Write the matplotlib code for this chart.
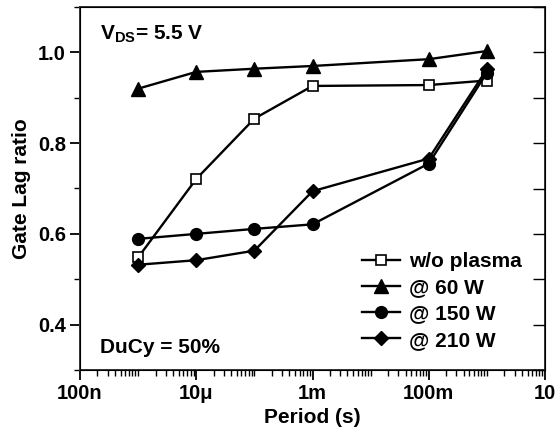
import matplotlib
matplotlib.use("Agg")
import matplotlib.pyplot as plt
from matplotlib.ticker import FixedLocator, LogLocator, NullFormatter, MultipleLocator

plt.rcParams['font.family'] = ['Liberation Sans', 'DejaVu Sans']
plt.rcParams['font.weight'] = 'bold'
plt.rcParams['mathtext.fontset'] = 'custom'
plt.rcParams['mathtext.bf'] = 'Liberation Sans:bold'
plt.rcParams['mathtext.rm'] = 'Liberation Sans:bold'

# data
period = [1e-6, 1e-5, 1e-4, 1e-3, 1e-1, 1.0]
no_plasma = [0.548, 0.721, 0.854, 0.926, 0.928, 0.938]
w60 = [0.920, 0.957, 0.964, 0.970, 0.985, 1.003]
w150 = [0.589, 0.600, 0.611, 0.621, 0.755, 0.955]
w210 = [0.532, 0.542, 0.563, 0.694, 0.766, 0.963]

xticks = [1e-7, 1e-5, 1e-3, 1e-1, 1e1]
xticklabels = ['100n', '10\u03bc', '1m', '100m', '10']

fig = plt.figure(figsize=(5.58, 4.32), dpi=100)
ax = fig.add_axes([80 / 558, 62 / 432, 465 / 558, 363 / 432])

lw = 1.7
ax.plot(period, no_plasma, '-s', color='black', mfc='white', mec='black',
        ms=7.5, lw=lw, mew=1.2, label='w/o plasma')
ax.plot(period, w60, '-^', color='black', ms=9.5, lw=lw, label='@ 60 W')
ax.plot(period, w150, '-o', color='black', ms=8.5, lw=lw, label='@ 150 W')
ax.plot(period, w210, '-D', color='black', ms=7.5, lw=lw, label='@ 210 W')

ax.set_xscale('log')
ax.set_xlim(1e-7, 1e1)
ax.set_ylim(0.3, 1.1)
ax.xaxis.set_major_locator(FixedLocator(xticks))
ax.set_xticklabels(xticklabels)
ax.xaxis.set_minor_locator(LogLocator(base=10, subs=range(1, 10), numticks=30))
ax.xaxis.set_minor_formatter(NullFormatter())
ax.yaxis.set_major_locator(FixedLocator([0.4, 0.6, 0.8, 1.0]))
ax.yaxis.set_minor_locator(MultipleLocator(0.1))
ax.set_yticklabels(['0.4', '0.6', '0.8', '1.0'])

ax.tick_params(axis='both', which='major', direction='out', length=7, width=1.3,
               labelsize=14.5)
ax.tick_params(axis='both', which='minor', direction='out', length=4, width=1.0)
ax.tick_params(axis='x', pad=3)
ax.tick_params(axis='y', pad=3)

for s in ax.spines.values():
    s.set_linewidth(1.4)
    s.set_color('#333333')

# mirrored inward ticks on the right
ax2 = ax.twinx()
ax2.set_ylim(0.3, 1.1)
ax2.yaxis.set_major_locator(FixedLocator([0.4, 0.6, 0.8, 1.0]))
ax2.yaxis.set_minor_locator(MultipleLocator(0.1))
ax2.tick_params(axis='y', which='both', direction='in', length=9, width=1.0,
                labelright=False)

ax.set_xlabel('Period (s)', fontsize=15, fontweight='bold', labelpad=4)
ax.set_ylabel('Gate Lag ratio', fontsize=15, fontweight='bold', labelpad=5)

ax.text(0.043, 0.955, r'V$_{\mathbf{DS}}$= 5.5 V', transform=ax.transAxes,
        fontsize=15, fontweight='bold', va='top', ha='left')
ax.text(0.043, 0.063, 'DuCy = 50%', transform=ax.transAxes,
        fontsize=15, fontweight='bold', va='center', ha='left')

leg = ax.legend(loc='upper left', bbox_to_anchor=(0.598, 0.337), frameon=False,
                fontsize=15, handlelength=1.8, handletextpad=0.45,
                labelspacing=0.35, borderaxespad=0.0, borderpad=0.2)

fig.savefig('out.png', dpi=100)
